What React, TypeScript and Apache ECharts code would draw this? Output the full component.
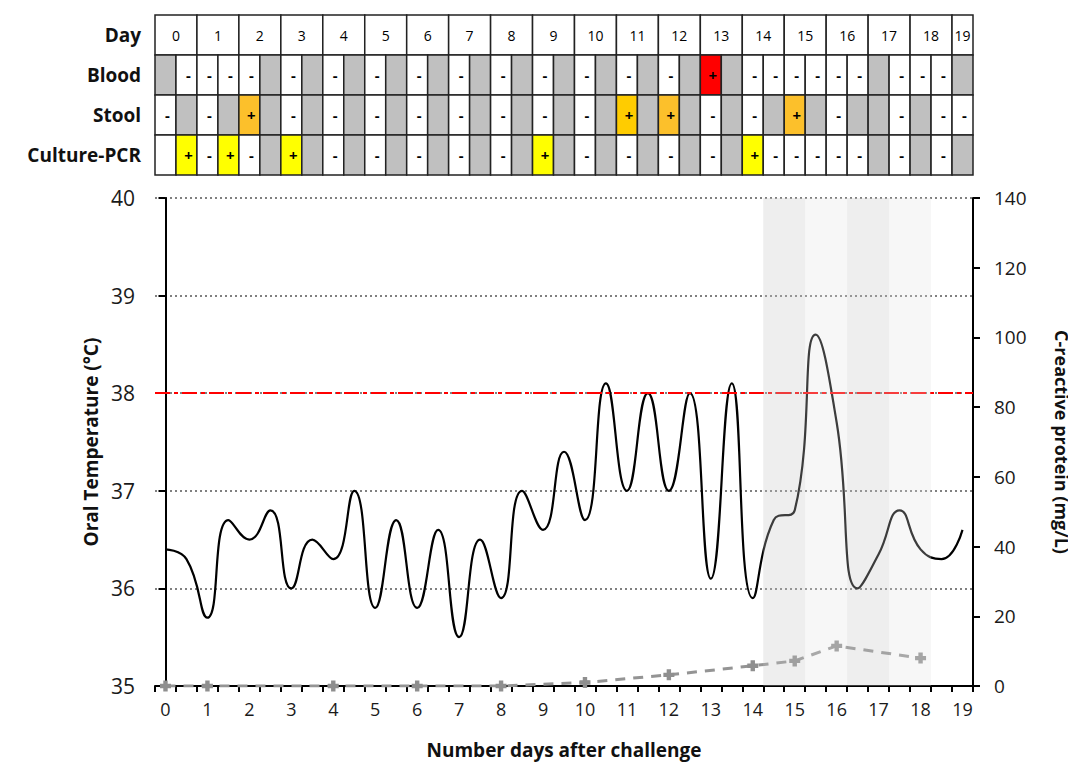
import React, { useEffect, useRef } from "react";
import * as echarts from "echarts";

// ---------- data ----------
const dayLabels = ["0","1","2","3","4","5","6","7","8","9","10","11","12","13","14","15","16","17","18","19"];
// one slot = half a day (39 slots: day 0 AM ... day 19 AM)
const temperature = [36.4, 36.3, 35.7, 36.7, 36.5, 36.8, 36.0, 36.5, 36.3, 37.0, 35.8, 36.7, 35.8, 36.6, 35.5, 36.5, 35.9, 37.0, 36.6, 37.4, 36.7, 38.1, 37.0, 38.0, 37.0, 38.0, 36.1, 38.1, 35.9, 36.7, 36.8, 38.6, 37.7, 36.0, 36.35, 36.8, 36.4, 36.3, 36.6];
const crpDays = [0, 1, 4, 6, 8, 10, 12, 14, 15, 16, 18];
const crpValues = [0, 0, 0, 0, 0, 1, 3.2, 5.8, 7.2, 11.5, 8];
const feverThreshold = 38;
// shaded bands, in slot indices [first, last]
const bands = [[29, 30], [31, 32], [33, 34], [35, 36]];
const bandColors = ["rgba(200,200,200,0.3)", "rgba(225,225,225,0.27)", "rgba(200,200,200,0.3)", "rgba(225,225,225,0.27)"];

const tableRows = ["Day", "Blood", "Stool", "Culture-PCR"];
// g = not done (grey), - = negative, +r/+o/+O/+y = positive (red/orange/gold/yellow), "" = empty
const bloodRow = ["g","-","-","-","-","g","-","g","-","g","-","g","-","g","-","g","-","g","-","g","-","g","-","g","-","g","+r","g","-","-","-","-","-","-","g","-","-","-","g"];
const stoolRow = ["-","g","-","g","+o","g","-","g","-","g","-","g","-","g","-","g","-","g","-","g","-","g","+O","g","+o","g","-","g","-","g","+o","g","-","g","g","-","g","-","-"];
const pcrRow = ["","+y","-","+y","-","g","+y","g","-","g","-","g","-","g","-","g","-","g","+y","g","-","g","-","g","-","g","-","g","+y","-","-","-","-","-","g","-","g","-","g"];

const FONT = "Open Sans";
const fillFor: Record<string, string> = {
  g: "#c0c0c0", "-": "#ffffff", "": "#ffffff",
  "+r": "#ff0000", "+o": "#fcc02b", "+O": "#ffcc00", "+y": "#ffff00",
};

export default function App() {
  const ref = useRef<HTMLDivElement>(null);
  useEffect(() => {
    if (!ref.current) return;
    const chart = echarts.init(ref.current, null, { renderer: "svg" });

    const nSlots = temperature.length;
    const slotLabels = Array.from({ length: nSlots }, (_, i) => (i % 2 === 0 ? dayLabels[i / 2] : ""));

    // table cells: [slotStart, row, span]
    const cells: { v: number[]; text: string; fill: string; day: boolean }[] = [];
    dayLabels.forEach((d, k) => {
      const span = Math.min(2, nSlots - 2 * k);
      cells.push({ v: [2 * k - 0.5, 0, span], text: d, fill: "#ffffff", day: true });
    });
    [bloodRow, stoolRow, pcrRow].forEach((row, r) => {
      row.forEach((c, i) => {
        cells.push({ v: [i - 0.5, r + 1, 1], text: c === "g" ? "" : c.charAt(0), fill: fillFor[c], day: false });
      });
    });

    const option: any = {
      animation: false,
      textStyle: { fontFamily: FONT },
      grid: [
        { left: 147, right: 103, top: 7, height: 160, outerBoundsMode: "none", containLabel: false },
        { left: 147, right: 103, top: 190, bottom: 86, outerBoundsMode: "none", containLabel: false },
      ],
      xAxis: [
        { type: "value", gridIndex: 0, min: -0.5, max: 38.5, show: false },
        {
          type: "category", gridIndex: 1, data: slotLabels, boundaryGap: true,
          axisLine: { lineStyle: { color: "#000", width: 2 } },
          axisTick: { show: true, interval: 0, length: 6, lineStyle: { color: "#000", width: 2 } },
          axisLabel: { interval: 0, fontSize: 18, margin: 14, color: "#1a1a1a", fontFamily: FONT },
          name: "Number days after challenge", nameLocation: "middle", nameGap: 54,
          nameTextStyle: { fontSize: 19, fontWeight: "bold", color: "#111", fontFamily: FONT },
        },
        { type: "value", gridIndex: 1, min: -0.5, max: 38.5, show: false },
      ],
      yAxis: [
        {
          type: "category", gridIndex: 0, data: tableRows, inverse: true,
          axisLine: { show: false }, axisTick: { show: false },
          axisLabel: { fontSize: 19, fontWeight: "bold", color: "#111", margin: 14, fontFamily: FONT },
        },
        {
          type: "value", gridIndex: 1, min: 35, max: 40, interval: 1, position: "left",
          axisLine: { show: true, lineStyle: { color: "#000", width: 2 } },
          axisTick: { show: true, length: 7, lineStyle: { color: "#000", width: 2 } },
          axisLabel: { fontSize: 21, margin: 20, color: "#1a1a1a", fontFamily: FONT },
          splitLine: { show: true, lineStyle: { color: "#808080", width: 2, type: [2, 3] } },
          name: "Oral Temperature (°C)", nameLocation: "middle", nameGap: 50,
          nameTextStyle: { fontSize: 19, fontWeight: "bold", color: "#111", fontFamily: FONT },
        },
        {
          type: "value", gridIndex: 1, min: 0, max: 140, interval: 20, position: "right",
          axisLine: { show: true, lineStyle: { color: "#000", width: 2 } },
          axisTick: { show: true, length: 7, lineStyle: { color: "#000", width: 2 } },
          axisLabel: { fontSize: 19, margin: 21, color: "#1a1a1a", fontFamily: FONT },
          splitLine: { show: false },
          name: "C-reactive protein (mg/L)", nameLocation: "middle", nameGap: 80, nameRotate: -90,
          nameTextStyle: { fontSize: 18, fontWeight: "bold", color: "#111", fontFamily: FONT },
        },
      ],
      series: [
        {
          type: "custom", name: "table", xAxisIndex: 0, yAxisIndex: 0,
          data: cells.map((c) => c.v),
          renderItem: (params: any, api: any) => {
            const cell = cells[params.dataIndex];
            const x0 = api.value(0), r = api.value(1), span = api.value(2);
            const p = api.coord([x0, r]);
            const h = api.size([0, 1])[1];
            const w = api.size([span, 0])[0];
            const top = p[1] - h / 2;
            return {
              type: "group",
              children: [
                { type: "rect", shape: { x: p[0], y: top, width: w, height: h },
                  style: { fill: cell.fill, stroke: "#222", lineWidth: 1.5 } },
                { type: "text", style: {
                    text: cell.text, x: p[0] + w / 2 + (cell.day ? 0 : 2), y: top + h / 2,
                    align: "center", verticalAlign: "middle", fill: "#000",
                    font: (cell.day ? "normal 14px " : "bold 15px ") + FONT } },
              ],
            };
          },
        },
        {
          type: "custom", name: "bands", xAxisIndex: 2, yAxisIndex: 1, z: 5, silent: true,
          data: bands.map((b, i) => [b[0] - 0.5, b[1] + 0.5, i]),
          renderItem: (params: any, api: any) => {
            const a = api.coord([api.value(0), 40]);
            const b = api.coord([api.value(1), 35]);
            return { type: "rect", shape: { x: a[0], y: a[1], width: b[0] - a[0], height: b[1] - a[1] },
              style: { fill: bandColors[api.value(2)] } };
          },
        },
        {
          type: "line", name: "Temperature", xAxisIndex: 2, yAxisIndex: 1, z: 3,
          data: temperature.map((t, i) => [i, t]),
          smooth: 0.5, showSymbol: false, symbol: "none",
          lineStyle: { color: "#000", width: 2.2 },
          markLine: {
            silent: true, symbol: "none", label: { show: false },
            lineStyle: { color: "#ff0000", width: 2, type: [15, 4, 4, 4] },
            data: [{ yAxis: feverThreshold }],
          },
        },
        {
          type: "line", name: "CRP", xAxisIndex: 2, yAxisIndex: 2, z: 3,
          data: crpDays.map((d, i) => [d * 2, crpValues[i]]),
          symbol: "path://M3,0h4v3h3v4h-3v3h-4v-3h-3v-4h3z", symbolSize: 11,
          itemStyle: { color: "#8f8f8f" },
          lineStyle: { color: "#949494", width: 3, type: [10, 8] },
        },
      ],
    };
    chart.setOption(option);
    return () => chart.dispose();
  }, []);
  return <div ref={ref} style={{ width: 1068, height: 764 }} />;
}
